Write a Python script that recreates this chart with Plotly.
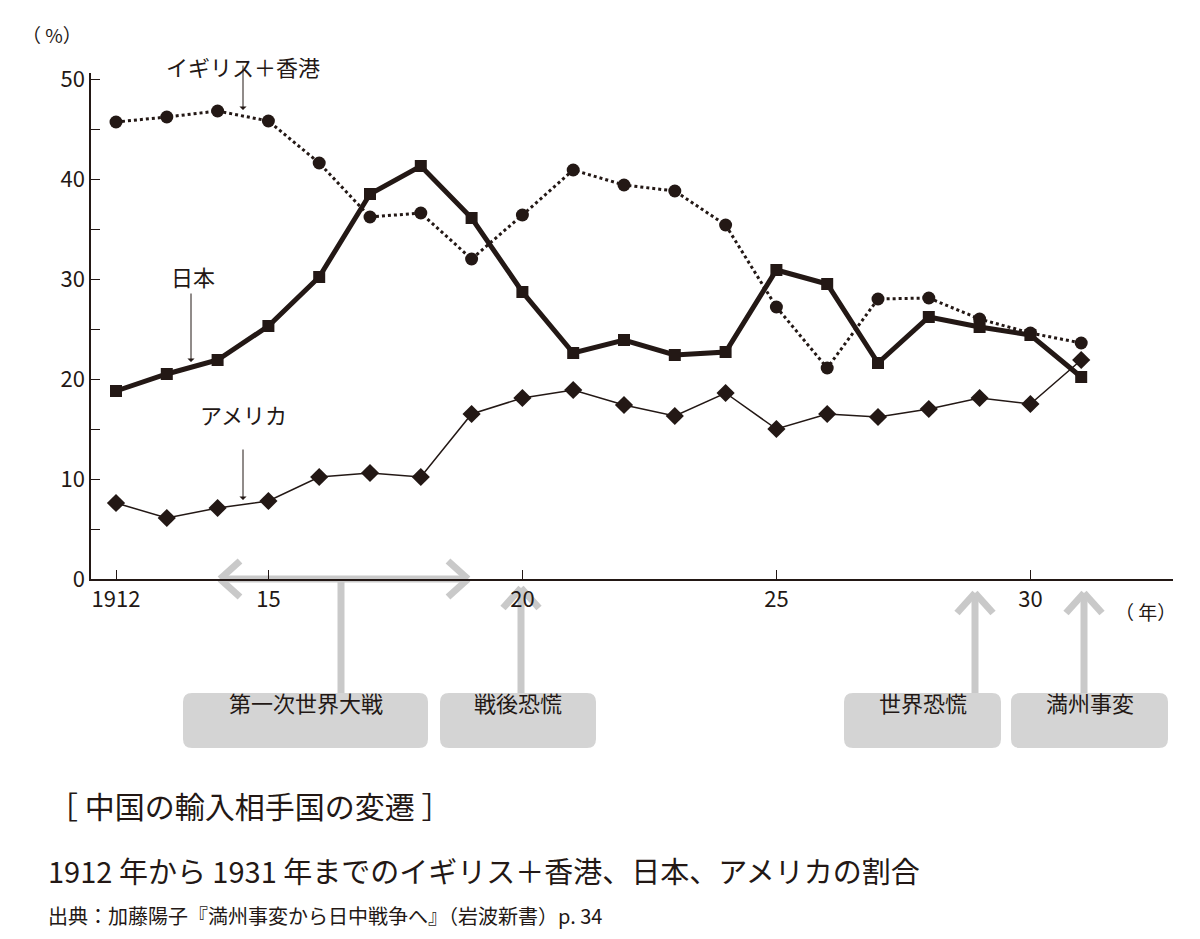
import plotly.graph_objects as go

years = list(range(1912, 1932))
uk_hk = [45.7, 46.2, 46.8, 45.8, 41.6, 36.2, 36.6, 32.0, 36.4, 40.9,
         39.4, 38.8, 35.4, 27.2, 21.1, 28.0, 28.1, 26.0, 24.6, 23.6]
japan = [18.8, 20.5, 21.9, 25.3, 30.2, 38.5, 41.3, 36.1, 28.7, 22.6,
         23.9, 22.4, 22.7, 30.9, 29.5, 21.6, 26.2, 25.2, 24.4, 20.2]
usa = [7.6, 6.1, 7.1, 7.8, 10.2, 10.6, 10.2, 16.5, 18.1, 18.9,
       17.4, 16.3, 18.6, 15.0, 16.5, 16.2, 17.0, 18.1, 17.5, 21.9]
tick_vals = [1912, 1915, 1920, 1925, 1930]
tick_text = ["1912", "15", "20", "25", "30"]

FONT = "Noto Sans CJK JP"
GRAY = "#c9c9c9"
BOXGRAY = "#d4d4d4"

def px2x(px):
    return 1912 + (px - 108) / 50.8

def py2y(py):
    return (571 - py) / 506

fig = go.Figure()
fig.add_trace(go.Scatter(x=years, y=uk_hk, mode="lines+markers",
                         line=dict(color="#231815", width=3, dash="dot"),
                         marker=dict(symbol="circle", size=13, color="#231815")))
fig.add_trace(go.Scatter(x=years, y=japan, mode="lines+markers",
                         line=dict(color="#231815", width=5),
                         marker=dict(symbol="square", size=12, color="#231815")))
fig.add_trace(go.Scatter(x=years, y=usa, mode="lines+markers",
                         line=dict(color="#231815", width=1.5),
                         marker=dict(symbol="diamond", size=14, color="#231815")))

shapes = []

def line(x0, y0, x1, y1, w=7):
    shapes.append(dict(type="line", xref="x", yref="paper",
                       x0=px2x(x0), y0=py2y(y0), x1=px2x(x1), y1=py2y(y1),
                       line=dict(color=GRAY, width=w), layer="below"))

def up_arrow(px, top, bottom):
    line(px, bottom, px, top)
    line(px - 18, top + 20, px, top)
    line(px + 18, top + 20, px, top)

def rbox(x0, y0, x1, y1, r=9):
    rx = r / 50.8
    ry = r / 506
    X0, X1 = px2x(x0), px2x(x1)
    Y0, Y1 = py2y(y1), py2y(y0)
    path = (f"M{X0+rx},{Y0} L{X1-rx},{Y0} Q{X1},{Y0} {X1},{Y0+ry} "
            f"L{X1},{Y1-ry} Q{X1},{Y1} {X1-rx},{Y1} L{X0+rx},{Y1} "
            f"Q{X0},{Y1} {X0},{Y1-ry} L{X0},{Y0+ry} Q{X0},{Y0} {X0+rx},{Y0} Z")
    shapes.append(dict(type="path", xref="x", yref="paper", path=path,
                       fillcolor=BOXGRAY, line=dict(width=0), layer="below"))

# 第一次世界大戦 double arrow
line(212, 571, 460, 571)
line(232, 553, 212, 571)
line(232, 589, 212, 571)
line(440, 553, 460, 571)
line(440, 589, 460, 571)
line(333, 571, 333, 685)
up_arrow(513, 580, 685)
up_arrow(967, 585, 685)
up_arrow(1076, 585, 685)

boxes = [(175, 420, "第一次世界大戦"), (432, 588, "戦後恐慌"),
         (836, 993, "世界恐慌"), (1003, 1160, "満州事変")]
annotations = []
for x0, x1, label in boxes:
    rbox(x0, 685, x1, 740)
    annotations.append(dict(x=px2x((x0 + x1) / 2), y=py2y(712), xref="x", yref="paper",
                            text=label, showarrow=False, font=dict(size=22, color="#231815")))

def pointer(text, tx, ty, hx, hy):
    annotations.append(dict(x=px2x(hx), y=py2y(hy), xref="x", yref="paper",
                            ax=0, ay=(ty + 16) - hy,
                            text="", showarrow=True, arrowhead=1, arrowsize=1.2,
                            arrowwidth=1, arrowcolor="#231815"))
    annotations.append(dict(x=px2x(tx), y=py2y(ty), xref="x", yref="paper",
                            text=text, showarrow=False, font=dict(size=22, color="#231815")))

pointer("イギリス＋香港", 235, 40, 235, 102)
pointer("日本", 185, 268, 183, 354)
pointer("アメリカ", 235, 424, 235, 492)

fig.update_layout(
    width=1200, height=939,
    margin=dict(l=83, r=35, t=65, b=368),
    paper_bgcolor="white", plot_bgcolor="white",
    showlegend=False,
    font=dict(family=FONT, color="#231815"),
    shapes=shapes,
    xaxis=dict(range=[px2x(83), px2x(1165)], tickvals=tick_vals, ticktext=tick_text,
               ticks="inside", ticklen=9, tickcolor="#231815", showgrid=False,
               zeroline=False, showline=True, linecolor="#231815", linewidth=1.5,
               tickfont=dict(size=22, family=FONT)),
    yaxis=dict(range=[0, 50.6], tickvals=[0, 10, 20, 30, 40, 50],
               ticks="inside", ticklen=9, tickcolor="#231815", showgrid=False,
               zeroline=False, showline=True, linecolor="#231815", linewidth=1.5,
               minor=dict(tickvals=[5, 15, 25, 35, 45], ticks="inside", ticklen=9,
                          tickcolor="#231815"),
               tickfont=dict(size=22, family=FONT)),
)

def fig_text(text, x, y, size, anchor="left"):
    annotations.append(dict(x=(x - 83) / (1165 - 83), y=(571 - y) / 506, xref="paper",
                            yref="paper", text=text, showarrow=False, xanchor=anchor,
                            yanchor="middle", font=dict(size=size, color="#231815")))

fig_text("（ %）", 12, 26, 19)
fig_text("（ 年）", 1105, 603, 19)
fig_text("［ 中国の輸入相手国の変遷 ］", 38, 797, 30)
fig_text("1912 年から 1931 年までのイギリス＋香港、日本、アメリカの割合", 38, 862, 29)
fig_text("出典：加藤陽子『満州事変から日中戦争へ』（岩波新書）p. 34", 38, 907, 20)

fig.update_layout(annotations=annotations)
fig.write_html("out.html")
